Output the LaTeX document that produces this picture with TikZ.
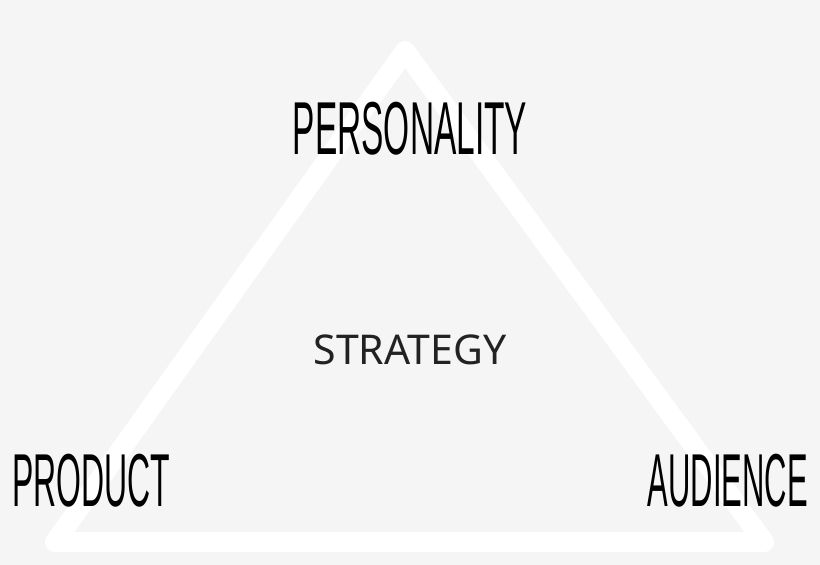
\documentclass[tikz,border=0pt]{standalone}
\usepackage{fontspec}
\usepackage{tikz}
\newfontfamily\handfont{Liberation Sans}
\newfontfamily\labelfont{Noto Sans}
\definecolor{bggray}{HTML}{F5F5F5}
\definecolor{textgray}{HTML}{222222}
\tikzset{
every picture/.style={x=1pt, y=-1pt}
}
\tikzset{
  frame/.style={draw=white, line width=20pt, line join=round},
  hand/.style={inner sep=0pt, text=black, font=\handfont\fontsize{75}{80}\selectfont},
  center/.style={inner sep=0pt, text=textgray, font=\labelfont\fontsize{41}{48}\selectfont}
}
\newcommand{\squeeze}[2]{\scalebox{#1}[1]{#2}}

\begin{document}
\begin{tikzpicture}
    \fill[bggray] (0,0) rectangle (820,565);
    \useasboundingbox (0,0) rectangle (820,565);
    \coordinate (top) at (405,51);
    \coordinate (left) at (55,542);
    \coordinate (right) at (764,542);
    \draw[frame] (top) -- (left) -- (right) -- cycle;
    \node[hand, anchor=base] (personality) at (410,154) {\squeeze{0.446}{PERSONALITY}};
    \node[hand, anchor=base] (product) at (91,506) {\squeeze{0.426}{PRODUCT}};
    \node[hand, anchor=base] (audience) at (728,506) {\squeeze{0.413}{AUDIENCE}};
    \node[center, anchor=base] (strategy) at (410,364) {STRATEGY};
\end{tikzpicture}
\end{document}
